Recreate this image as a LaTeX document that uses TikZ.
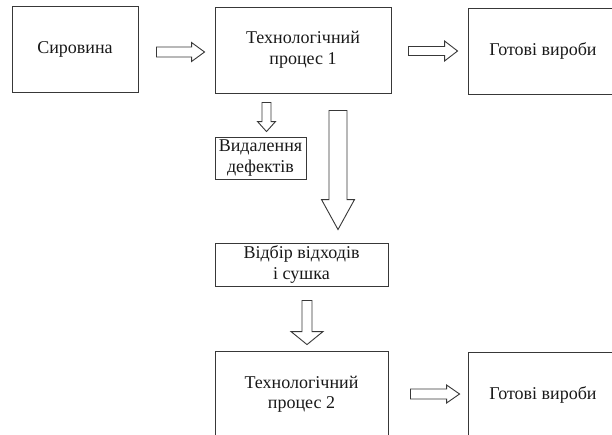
\documentclass[tikz,border=0pt]{standalone}
\usepackage{fontspec}
\setmainfont{Liberation Serif}
\usetikzlibrary{calc}
\tikzset{
  box/.style={draw=black!78, line width=0.9pt, rectangle, inner sep=1pt, align=center,
    font=\fontsize{18}{20.5}\selectfont, text=black!90},
  arr/.style={draw=black!78, line width=0.9pt, fill=white, line join=miter},
}
% horizontal block arrow: start, tip, shaft half, head half, head length
\newcommand\myharr[5]{%
  \draw[arr] let \p1=(#1), \p2=(#2) in
    (\x1,{\y1+#3pt}) -- ({\x2-#5pt},{\y1+#3pt}) -- ({\x2-#5pt},{\y1+#4pt}) --
    (\x2,\y1) -- ({\x2-#5pt},{\y1-#4pt}) -- ({\x2-#5pt},{\y1-#3pt}) --
    (\x1,{\y1-#3pt}) -- cycle;}
% vertical block arrow (downwards): top, tip, shaft half, head half, head length
\newcommand\myvarr[5]{%
  \draw[arr] let \p1=(#1), \p2=(#2) in
    ({\x1-#3pt},\y1) -- ({\x1-#3pt},{\y2+#5pt}) -- ({\x1-#4pt},{\y2+#5pt}) --
    (\x1,\y2) -- ({\x1+#4pt},{\y2+#5pt}) -- ({\x1+#3pt},{\y2+#5pt}) --
    ({\x1+#3pt},\y1) -- cycle;}
\begin{document}
\begin{tikzpicture}[x=1pt,y=-1pt]
\useasboundingbox (0,0) rectangle (612,434);
\clip (0,0) rectangle (612,434);
\fill[white] (0,0) rectangle (612,434);

\node[box, minimum width=126pt, minimum height=86pt] (s) at (75,49) {Сировина};
\node[box, minimum width=176pt, minimum height=86pt] (t1) at (303,50) {Технологічний\\процес 1};
\node[box, minimum width=150pt, minimum height=86pt] (g1) at (543,51) {Готові вироби};
\node[box, minimum width=91pt, minimum height=42pt] (d) at (260.5,158) {Видалення\\дефектів};
\node[box, minimum width=173pt, minimum height=43pt] (v) at (301.5,264.5) {Відбір відходів\\і сушка};
\node[box, minimum width=173pt, minimum height=86pt] (t2) at (301.5,394) {Технологічний\\процес 2};
\node[box, minimum width=150pt, minimum height=86pt] (g2) at (543,395) {Готові вироби};

% connector end points
\coordinate (a1s) at ($(s.east)+(18,3)$);
\coordinate (a1e) at ($(t1.west)+(-10,3)$);
\coordinate (a2s) at ($(t1.east)+(17,1)$);
\coordinate (a2e) at ($(g1.west)+(-10,1)$);
\coordinate (a3s) at ($(t1.south)+(-36.5,9)$);
\coordinate (a3e) at ($(d.north)+(6,-5)$);
\coordinate (a4s) at ($(t1.south)+(35,17)$);
\coordinate (a4e) at ($(v.north)+(36.5,-13)$);
\coordinate (a5s) at ($(v.south)+(5.5,14)$);
\coordinate (a5e) at ($(t2.north)+(5.5,-6)$);
\coordinate (a6s) at ($(t2.east)+(22,0)$);
\coordinate (a6e) at ($(g2.west)+(-8,0)$);

\myharr{a1s}{a1e}{5}{9.5}{13}
\myharr{a2s}{a2e}{4.5}{10}{13}
\myvarr{a3s}{a3e}{4.5}{9}{10}
\myvarr{a4s}{a4e}{9}{16.5}{30}
\myvarr{a5s}{a5e}{5}{16}{13}
\myharr{a6s}{a6e}{5}{9}{13}
\end{tikzpicture}
\end{document}
